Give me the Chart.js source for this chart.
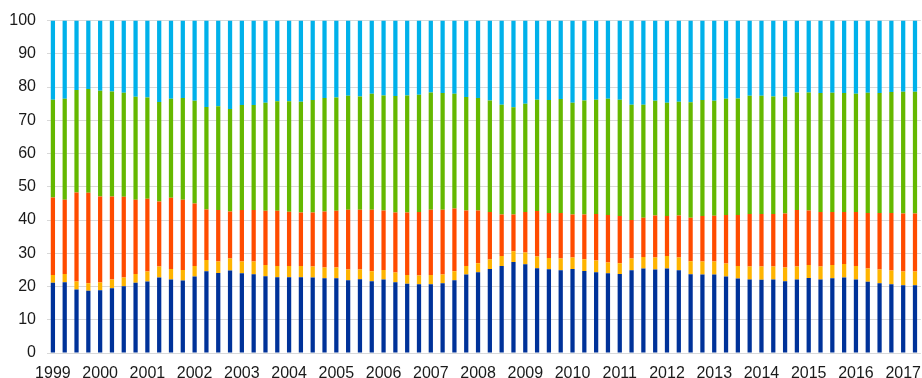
<!DOCTYPE html>
<html>
<head>
<meta charset="utf-8">
<script src="https://cdn.jsdelivr.net/npm/chart.js@4/dist/chart.umd.min.js"></script>
<style>
  html, body { margin: 0; padding: 0; background: #fff; overflow: hidden; }
  #wrap { width: 926px; height: 378px; position: relative; }
</style>
</head>
<body>
<div id="wrap"><canvas id="myChart"></canvas></div>
<script>
// quarterly data, 1999 Q1 - 2017 Q2, shares in percent
const years = ["1999", "2000", "2001", "2002", "2003", "2004", "2005", "2006", "2007",
    "2008", "2009", "2010", "2011", "2012", "2013", "2014", "2015", "2016", "2017"];
const quarters = ["Q1", "Q2", "Q3", "Q4"];
const yTicks = [0, 10, 20, 30, 40, 50, 60, 70, 80, 90, 100];

const darkBlue = [21.1, 21.3, 19.1, 18.7, 18.9, 19.5, 20.1, 21.1, 21.5, 22.7, 22.1, 21.8,
    23.0, 24.6, 24.1, 24.8, 24.0, 23.7, 23.1, 22.8, 22.8, 22.8, 22.7, 22.5,
    22.5, 21.9, 22.2, 21.6, 22.1, 21.3, 20.8, 20.7, 20.7, 21.0, 21.9, 23.6,
    24.3, 25.3, 26.2, 27.4, 26.7, 25.5, 25.2, 24.9, 25.3, 24.7, 24.3, 24.0,
    23.8, 24.9, 25.4, 25.1, 25.4, 24.9, 23.7, 23.6, 23.6, 23.0, 22.4, 22.1,
    22.0, 22.1, 21.6, 22.1, 22.6, 22.1, 22.5, 22.7, 22.1, 21.4, 21.0, 20.7,
    20.4, 20.4];
const yellow = [2.4, 2.5, 2.4, 2.3, 2.3, 2.6, 2.6, 2.7, 3.0, 3.3, 3.2, 3.2,
    3.2, 3.4, 3.4, 3.6, 3.5, 3.8, 3.4, 3.4, 3.4, 3.4, 3.3, 3.2,
    3.2, 3.2, 2.9, 3.0, 2.9, 2.9, 2.7, 2.6, 2.8, 2.6, 2.7, 2.6,
    2.7, 2.8, 3.0, 3.2, 3.5, 3.5, 3.4, 3.5, 3.4, 3.5, 3.5, 3.2,
    3.2, 3.5, 3.5, 3.6, 3.8, 3.8, 3.9, 3.9, 3.9, 3.9, 3.8, 3.9,
    4.0, 3.9, 4.1, 3.9, 3.9, 3.9, 4.0, 4.1, 4.1, 4.0, 4.1, 4.1,
    4.1, 4.1];
const orange = [23.3, 22.3, 26.8, 27.2, 25.9, 25.0, 24.3, 22.3, 21.9, 19.6, 21.4, 21.1,
    18.8, 15.2, 15.5, 14.2, 15.5, 15.5, 16.3, 16.6, 16.3, 16.1, 16.3, 16.9,
    17.1, 18.0, 18.0, 18.5, 17.9, 18.1, 18.8, 19.1, 19.6, 19.5, 18.9, 16.7,
    15.9, 14.3, 12.5, 11.1, 12.2, 13.7, 13.5, 13.7, 13.0, 13.5, 14.0, 14.3,
    14.2, 11.6, 11.8, 12.7, 12.0, 12.7, 13.1, 13.7, 13.8, 14.6, 15.3, 15.8,
    15.8, 15.8, 16.3, 17.0, 16.4, 16.4, 15.9, 15.6, 16.2, 16.7, 17.0, 17.3,
    17.5, 17.5];
const green = [29.4, 30.4, 30.8, 31.2, 31.8, 31.6, 31.3, 31.0, 30.5, 29.9, 29.8, 30.6,
    30.9, 30.8, 31.2, 30.8, 31.6, 31.6, 32.5, 32.9, 33.2, 33.3, 33.8, 34.1,
    34.1, 34.3, 34.1, 34.9, 34.6, 35.0, 35.2, 35.3, 35.3, 35.1, 34.5, 34.1,
    33.8, 33.6, 33.0, 32.2, 32.6, 33.5, 34.0, 34.3, 33.6, 34.3, 34.4, 35.0,
    35.0, 34.7, 34.0, 34.5, 34.1, 34.2, 34.7, 34.9, 34.6, 35.0, 35.1, 35.6,
    35.6, 35.4, 35.1, 35.4, 35.5, 35.8, 35.9, 35.8, 35.6, 36.2, 36.1, 36.4,
    36.6, 36.6];
const lightBlue = [23.8, 23.5, 20.9, 20.6, 21.1, 21.3, 21.7, 22.9, 23.1, 24.5, 23.5, 23.3,
    24.1, 26.0, 25.8, 26.6, 25.4, 25.4, 24.7, 24.3, 24.3, 24.4, 23.9, 23.3,
    23.1, 22.6, 22.8, 22.0, 22.5, 22.7, 22.5, 22.3, 21.6, 21.8, 22.0, 23.0,
    23.3, 24.0, 25.3, 26.1, 25.0, 23.8, 23.9, 23.6, 24.7, 24.0, 23.8, 23.5,
    23.8, 25.3, 25.3, 24.1, 24.7, 24.4, 24.6, 23.9, 24.1, 23.5, 23.4, 22.6,
    22.6, 22.8, 22.9, 21.6, 21.6, 21.8, 21.7, 21.8, 22.0, 21.7, 21.8, 21.5,
    21.4, 21.4];

// category per quarter, only Q1 gets a year label
const categories = [];
years.forEach(y => quarters.forEach(q => categories.push(y + " " + q)));
categories.length = darkBlue.length;

const ctx = document.getElementById("myChart").getContext("2d");
Chart.defaults.font.family = "'Liberation Sans', Arial, sans-serif";
Chart.defaults.color = "#1a1a1a";

function ds(data, color) {
    return {
        data: data,
        backgroundColor: color,
        borderWidth: 0,
        barPercentage: 0.36,
        categoryPercentage: 1.0
    };
}

const chart = new Chart(ctx, {
    type: "bar",
    data: {
        labels: categories,
        datasets: [
            ds(darkBlue, "#003299"),
            ds(yellow, "#ffb400"),
            ds(orange, "#ff4b00"),
            ds(green, "#65b800"),
            ds(lightBlue, "#00b1ea")
        ]
    },
    options: {
        responsive: true,
        maintainAspectRatio: false,
        animation: false,
        layout: { padding: { top: 19, right: 1, left: 0, bottom: 0 } },
        plugins: {
            legend: { display: false },
            tooltip: { enabled: false }
        },
        scales: {
            x: {
                stacked: true,
                offset: true,
                grid: { display: false, drawTicks: false },
                border: { display: false },
                ticks: {
                    autoSkip: false,
                    maxRotation: 0,
                    padding: 11,
                    font: { size: 16 },
                    callback: function(val, i) {
                        const c = categories[i];
                        return c.endsWith("Q1") ? c.slice(0, 4) : "";
                    }
                },
                afterFit: scale => { scale.height = 25; }
            },
            y: {
                stacked: true,
                min: 0,
                max: 100,
                afterBuildTicks: scale => {
                    scale.ticks = yTicks.map(v => ({ value: v }));
                },
                grid: { color: "#d9d9d9", lineWidth: 1, drawTicks: false },
                border: { display: false },
                ticks: { padding: 11, font: { size: 16 } },
                afterFit: scale => { scale.width = 47; }
            }
        }
    }
});
</script>
</body>
</html>
